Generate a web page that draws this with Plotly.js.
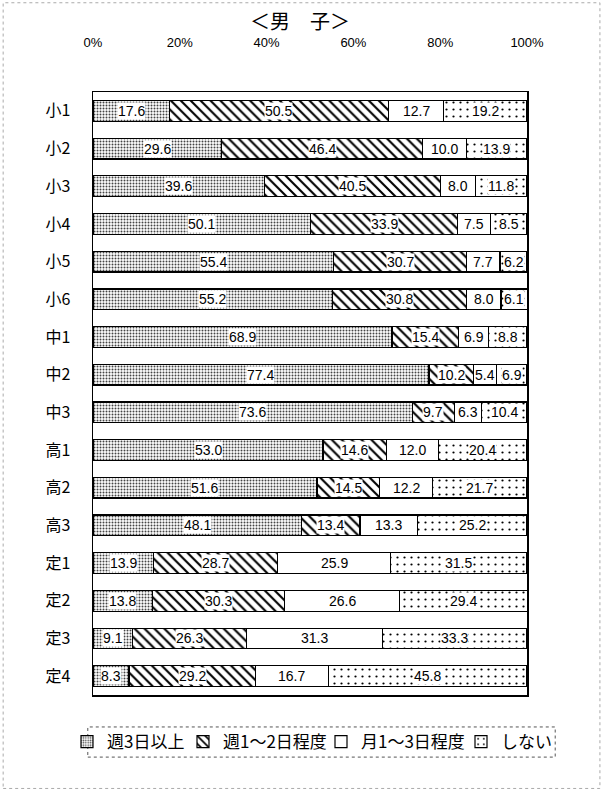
<!DOCTYPE html>
<html>
<head>
<meta charset="utf-8">
<script src="https://cdn.plot.ly/plotly-3.0.1.min.js"></script>
<style>
  body { margin: 0; background: #fff; }
  #chart { width: 604px; height: 794px; }
</style>
</head>
<body>
<div id="chart"></div>
<script>
// grades, top to bottom
var grades = ['小1', '小2', '小3', '小4', '小5', '小6', '中1', '中2', '中3',
              '高1', '高2', '高3', '定1', '定2', '定3', '定4'];

var seriesNames = ['週3日以上', '週1～2日程度', '月1～3日程度', 'しない'];

// percentages per grade
var week3plus = [17.6, 29.6, 39.6, 50.1, 55.4, 55.2, 68.9, 77.4, 73.6, 53.0, 51.6, 48.1, 13.9, 13.8, 9.1, 8.3];
var week1to2  = [50.5, 46.4, 40.5, 33.9, 30.7, 30.8, 15.4, 10.2, 9.7, 14.6, 14.5, 13.4, 28.7, 30.3, 26.3, 29.2];
var month1to3 = [12.7, 10.0, 8.0, 7.5, 7.7, 8.0, 6.9, 5.4, 6.3, 12.0, 12.2, 13.3, 25.9, 26.6, 31.3, 16.7];
var never     = [19.2, 13.9, 11.8, 8.5, 6.2, 6.1, 8.8, 6.9, 10.4, 20.4, 21.7, 25.2, 31.5, 29.4, 33.3, 45.8];

var tickVals = [0, 20, 40, 60, 80, 100];
var tickText = tickVals.map(function(v) { return v + '%'; });

var FONT = 'Liberation Sans, Arial, Noto Sans CJK JP, sans-serif';
var JP = 'Noto Sans CJK JP, sans-serif';

var allSeries = [week3plus, week1to2, month1to3, never];
var patterns = [
  { shape: '.', size: 3, solidity: 0.35, fgcolor: '#444', bgcolor: '#fff' },
  { shape: '\\', size: 7, solidity: 0.3, fgcolor: '#000', bgcolor: '#fff' },
  { shape: '', bgcolor: '#fff' },
  { shape: '.', size: 7, solidity: 0.08, fgcolor: '#000', bgcolor: '#fff' }
];
// one legend per series so the entries sit in one row like the original
var legendIds = ['legend', 'legend2', 'legend3', 'legend4'];
var legendX = [67, 183, 321, 461];

var data = allSeries.map(function(vals, i) {
  return {
    type: 'bar',
    orientation: 'h',
    name: seriesNames[i],
    legend: legendIds[i],
    y: grades,
    x: vals,
    marker: {
      color: '#fff',
      line: { color: '#000', width: 1.2 },
      pattern: patterns[i]
    },
    hoverinfo: 'x+y'
  };
});

// value labels in white boxes at each segment's centre
var annotations = [];
grades.forEach(function(g, r) {
  var start = 0;
  allSeries.forEach(function(vals) {
    var v = vals[r];
    annotations.push({
      x: start + v / 2, y: g, xref: 'x', yref: 'y',
      text: v.toFixed(1), showarrow: false,
      bgcolor: '#fff', borderpad: 0,
      font: { family: FONT, size: 14, color: '#000' }
    });
    start += v;
  });
});

var layout = {
  width: 604,
  height: 794,
  margin: { l: 93, r: 77, t: 92, b: 99 },
  paper_bgcolor: '#fff',
  plot_bgcolor: '#fff',
  font: { family: FONT, color: '#000' },
  title: {
    text: '＜男　子＞',
    font: { family: JP, size: 20, color: '#000' },
    x: 0.477, xref: 'paper', xanchor: 'center',
    y: 0.972, yanchor: 'middle'
  },
  barmode: 'stack',
  bargap: 0.45,
  xaxis: {
    side: 'top',
    range: [0, 100],
    tickvals: tickVals,
    ticktext: tickText,
    ticks: '',
    ticklabelstandoff: 38,
    tickfont: { family: FONT, size: 13, color: '#000' },
    showgrid: false,
    zeroline: false,
    showline: true, mirror: true, linecolor: '#000', linewidth: 1.5,
    fixedrange: true
  },
  yaxis: {
    autorange: 'reversed',
    ticks: '',
    ticklabelstandoff: 18,
    tickfont: { family: JP, size: 16, color: '#000' },
    showgrid: false,
    showline: true, mirror: true, linecolor: '#000', linewidth: 1.5,
    fixedrange: true
  },
  showlegend: true,
  annotations: annotations,
  shapes: [
    // dotted box around legend
    { type: 'rect', xref: 'paper', yref: 'paper',
      x0: -0.012, x1: 1.065, y0: -0.103, y1: -0.053,
      line: { color: '#555', width: 1, dash: 'dot' } },
    // faint outer border of the figure
    { type: 'rect', xref: 'paper', yref: 'paper',
      x0: -0.207, x1: 1.168, y0: -0.155, y1: 1.148,
      line: { color: '#aaa', width: 1, dash: 'dot' } }
  ]
};

legendIds.forEach(function(id, i) {
  layout[id] = {
    orientation: 'h',
    xref: 'container', yref: 'container',
    x: legendX[i] / 604, xanchor: 'left',
    y: 0.0655, yanchor: 'middle',
    font: { family: JP, size: 17, color: '#000' },
    itemwidth: 30,
    borderwidth: 0,
    bgcolor: 'rgba(0,0,0,0)'
  };
});

Plotly.newPlot('chart', data, layout, { displayModeBar: false, staticPlot: true });
</script>
</body>
</html>
